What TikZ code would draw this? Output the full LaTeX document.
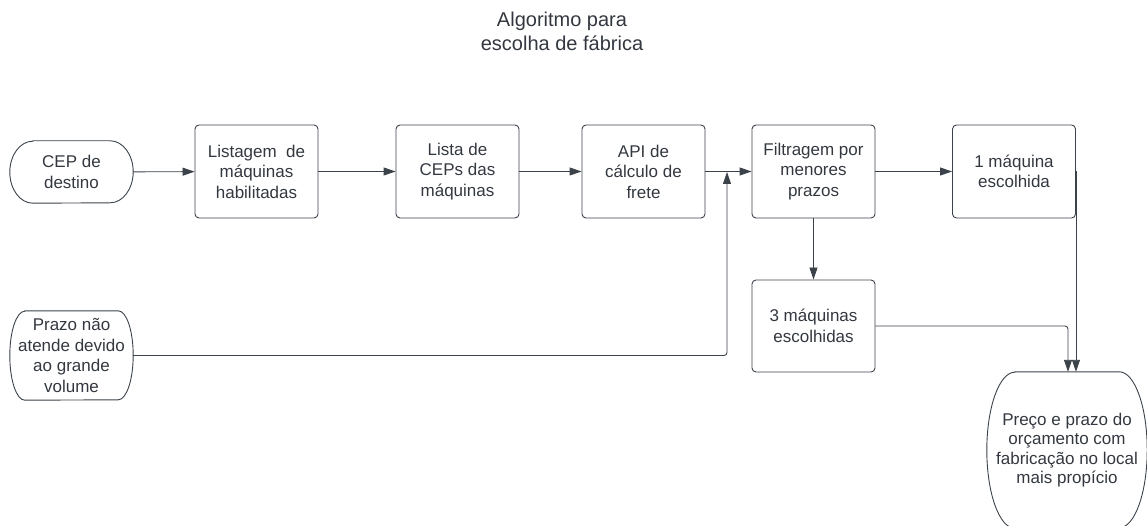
\documentclass[tikz,border=0pt]{standalone}
\usepackage{fontspec}
\setmainfont{Liberation Sans}
\usetikzlibrary{arrows.meta}
\definecolor{ln}{HTML}{3B424A}
\definecolor{tx}{HTML}{333840}
% elliptical-sided terminator outline around a node
\newcommand{\termoutline}[3]{%
  \draw[outl] ([xshift=#2]#1.north west) -- ([xshift=-#2]#1.north east)
    arc[start angle=90, end angle=-90, x radius=#2, y radius=#3]
    -- ([xshift=#2]#1.south west)
    arc[start angle=270, end angle=90, x radius=#2, y radius=#3] -- cycle;}
\begin{document}
\begin{tikzpicture}[x=1pt,y=-1pt,
  outl/.style={draw=ln, line width=0.9pt},
  base/.style={text=tx, align=center, inner sep=0pt,
    font=\fontsize{17}{20.5}\selectfont},
  box/.style={base, draw=ln, line width=0.9pt, rounded corners=4pt, minimum width=123pt, minimum height=93pt},
  term/.style={base},
  arr/.style={draw=ln, line width=0.9pt, -{Triangle[length=12pt,width=8pt]}, rounded corners=3pt}]
\useasboundingbox (0,0) rectangle (1147,526);
\clip (0,0) rectangle (1147,526);
\node[font=\fontsize{20}{23.5}\selectfont, text=tx, align=center] (title) at (562,31.5) {Algoritmo para\\escolha de fábrica};
\node[term, minimum width=123pt, minimum height=62pt] (cep) at (71.5,172) {CEP de\\destino};
\termoutline{cep}{23pt}{31pt}
\node[box] (list) at (256.5,171.5) {Listagem~ de\\máquinas\\habilitadas};
\node[box] (ceps) at (457.5,171.5) {Lista de\\CEPs das\\máquinas};
\node[box] (api) at (643.5,171.5) {API de\\cálculo de\\frete};
\node[box] (filt) at (813.5,171.5) {Filtragem por\\menores\\prazos};
\node[box] (m1) at (1014,171.5) {1 máquina\\escolhida};
\node[box, minimum height=92pt] (m3) at (813.5,326) {3 máquinas\\escolhidas};
\node[term, minimum width=123pt, minimum height=89pt] (prazo) at (71.5,355.5) {Prazo não\\atende devido\\ao grande\\volume};
\termoutline{prazo}{15pt}{44.5pt}
\node[term, minimum width=160pt, minimum height=156pt, font=\fontsize{17}{19.5}\selectfont] (preco) at (1067,450) {Preço e prazo do\\orçamento com\\fabricação no local\\mais propício};
\termoutline{preco}{28pt}{78pt}
\coordinate (j) at (727,172);
\draw[arr] (cep) -- (list);
\draw[arr] (list) -- (ceps);
\draw[arr] (ceps) -- (api);
\draw[arr] (api) -- (filt);
\draw[arr] (filt) -- (m1);
\draw[arr] (filt) -- (m3);
\draw[arr] (prazo.east) -| (j);
\draw[arr] (m3.east) -| ([xshift=1pt]preco.north);
\draw[arr] (m1.east) -- (m1.east |- preco.north);
\end{tikzpicture}
\end{document}
